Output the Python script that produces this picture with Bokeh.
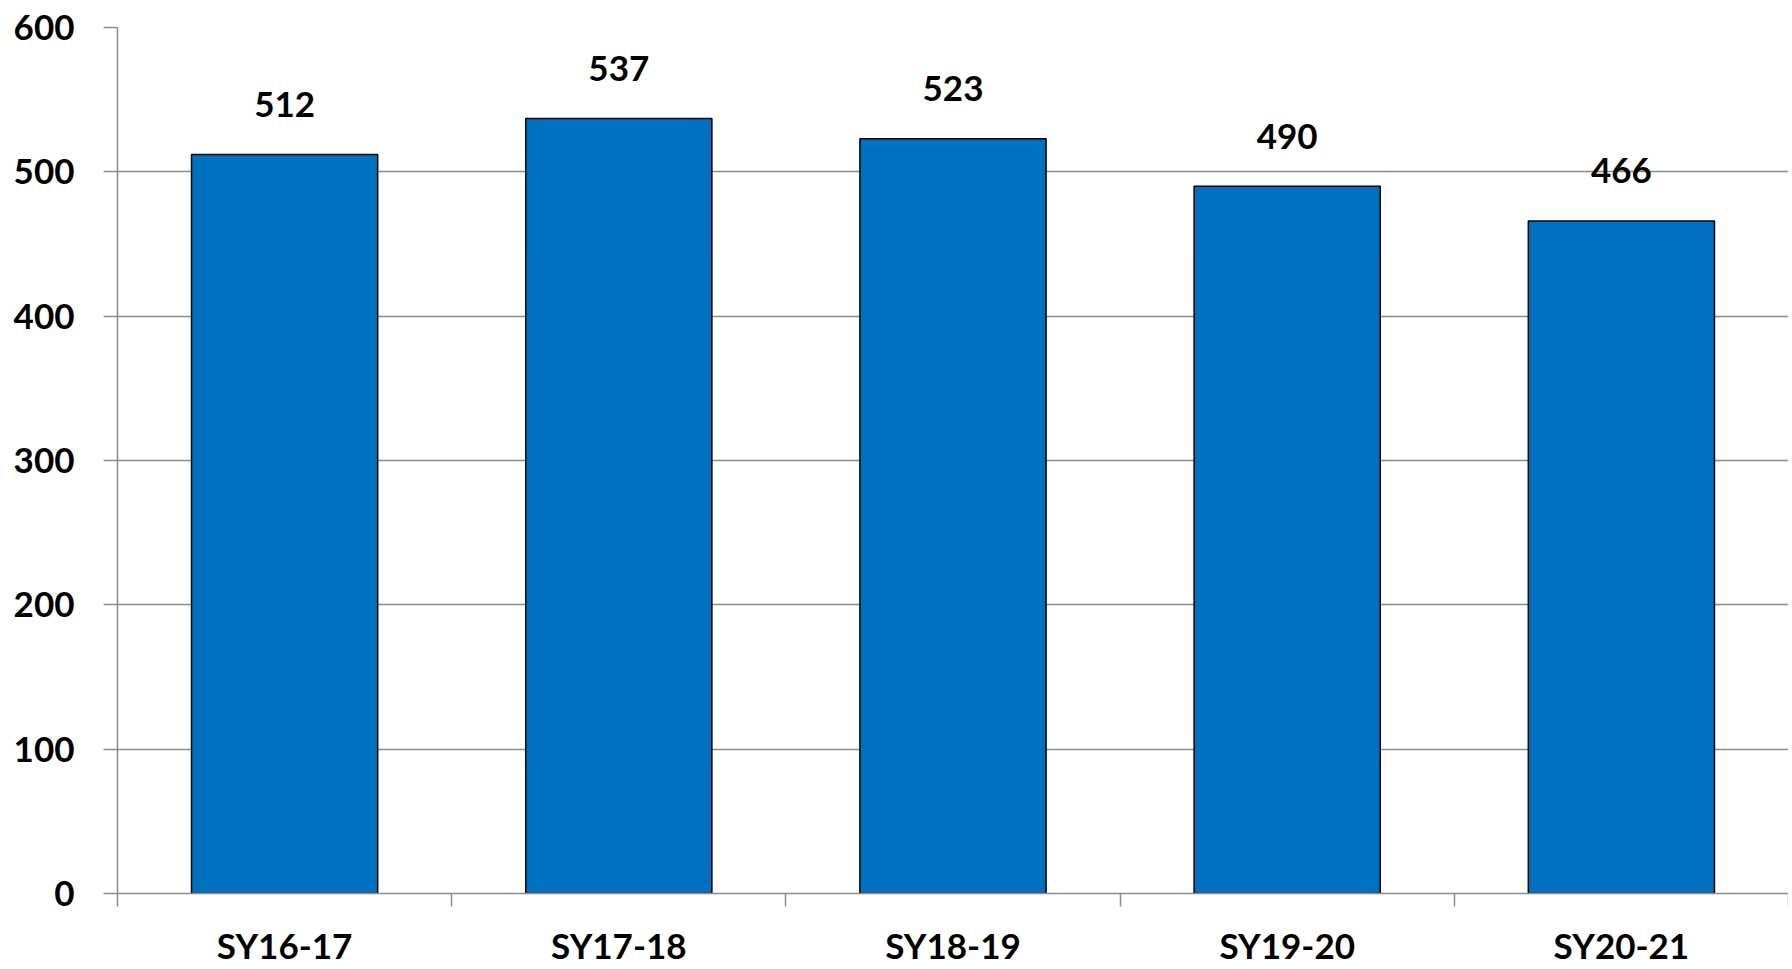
from bokeh.plotting import figure
from bokeh.models import ColumnDataSource, FixedTicker, Range1d
from bokeh.core.properties import value
from bokeh.embed import file_html
from bokeh.resources import INLINE

categories = ["SY16-17", "SY17-18", "SY18-19", "SY19-20", "SY20-21"]
values = [512, 537, 523, 490, 466]
y_ticks = [0, 100, 200, 300, 400, 500, 600]

xs = [i + 0.5 for i in range(len(categories))]
source = ColumnDataSource(dict(x=xs, top=values, label=[str(v) for v in values]))

FONT = "Lato"
GRAY = "#8c8c8c"

p = figure(width=1788, height=968, output_backend="svg", toolbar_location=None,
           x_range=Range1d(0, len(categories)), y_range=Range1d(0, 600),
           min_border_left=117, min_border_top=27, min_border_bottom=70, min_border_right=0)
p.outline_line_color = None
p.background_fill_color = "white"

p.vbar(x="x", top="top", width=0.557, bottom=0, source=source,
       fill_color="#0070C0", line_color="black", line_width=1.5)

p.text(x="x", y="top", text="label", source=source, text_align="center",
       text_baseline="alphabetic", y_offset=-50, text_font=value(FONT),
       text_font_style="bold", text_font_size="35px", text_color="black")

# x axis: ticks at category boundaries (minor), labels at centres (major)
p.xaxis.ticker = FixedTicker(ticks=xs, minor_ticks=list(range(len(categories) + 1)))
p.xaxis.major_label_overrides = {x: c for x, c in zip(xs, categories)}
p.xaxis.major_tick_line_color = None
p.xaxis.major_tick_out = 0
p.xaxis.major_tick_in = 0
p.xaxis.minor_tick_out = 13
p.xaxis.minor_tick_in = 0
p.xaxis.minor_tick_line_color = GRAY
p.xaxis.minor_tick_line_width = 1.5
p.xaxis.axis_line_color = GRAY
p.xaxis.axis_line_width = 1.5
p.xaxis.major_label_standoff = 17
p.xaxis.major_label_text_font = FONT
p.xaxis.major_label_text_font_style = "bold"
p.xaxis.major_label_text_font_size = "35px"
p.xaxis.major_label_text_color = "black"

p.yaxis.ticker = FixedTicker(ticks=y_ticks, minor_ticks=[])
p.yaxis.major_tick_out = 14
p.yaxis.major_tick_in = 0
p.yaxis.major_tick_line_color = GRAY
p.yaxis.major_tick_line_width = 1.5
p.yaxis.minor_tick_line_color = None
p.yaxis.axis_line_color = GRAY
p.yaxis.axis_line_width = 1.5
p.yaxis.major_label_standoff = 29
p.yaxis.major_label_text_font = FONT
p.yaxis.major_label_text_font_style = "bold"
p.yaxis.major_label_text_font_size = "35px"
p.yaxis.major_label_text_color = "black"

p.xgrid.grid_line_color = None
p.ygrid.grid_line_color = GRAY
p.ygrid.grid_line_width = 1.5
p.ygrid.ticker = FixedTicker(ticks=y_ticks)

open("out.html", "w").write(file_html(p, INLINE))
